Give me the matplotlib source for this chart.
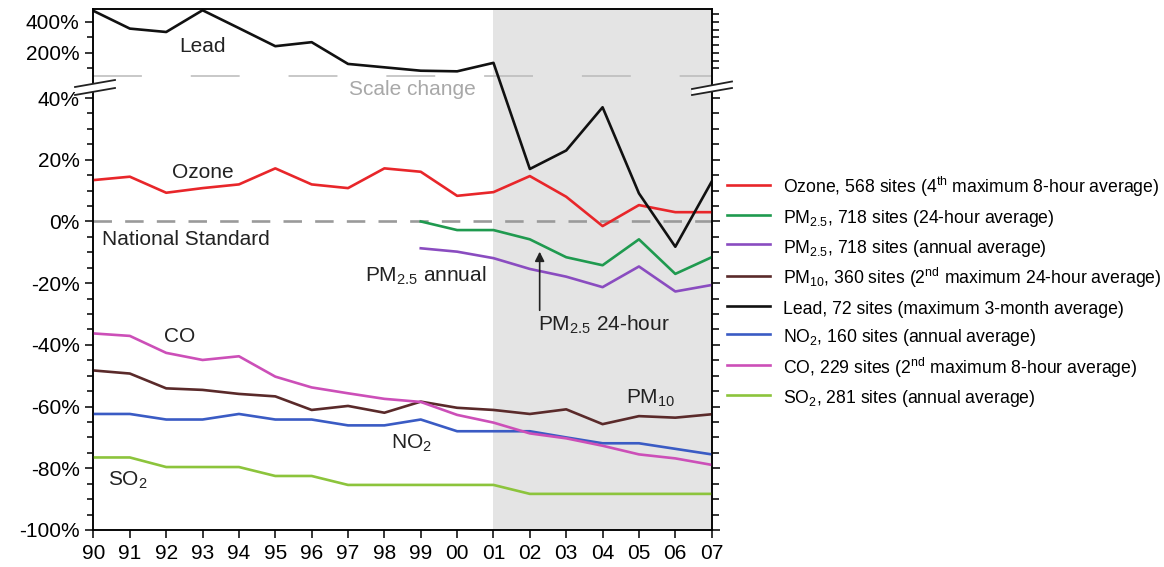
import numpy as np
import matplotlib.pyplot as plt

plt.rcParams['font.family'] = ['Liberation Sans', 'DejaVu Sans']
plt.rcParams['mathtext.fontset'] = 'custom'
plt.rcParams['mathtext.rm'] = 'Liberation Sans'
plt.rcParams['mathtext.it'] = 'Liberation Sans:italic'

# percent change relative to the national standard
years = np.arange(1990, 2008)
pm_years = np.arange(1999, 2008)

ozone = [13.4, 14.5, 9.3, 10.8, 12.0, 17.2, 12.0, 10.8, 17.2, 16.1, 8.3, 9.5,
         14.7, 8.0, -1.5, 5.3, 3.0, 3.0]
lead = [472, 357, 335, 476, 360, 243, 269, 128, 106, 84, 80, 135,
        17.0, 23.0, 37.0, 9.1, -8.2, 12.9]
pm25_24h = [0, -2.8, -2.8, -5.8, -11.6, -14.2, -5.8, -17.0, -11.6]
pm25_ann = [-8.7, -9.8, -11.9, -15.4, -17.9, -21.3, -14.6, -22.7, -20.6]
pm10 = [-48.3, -49.3, -54.1, -54.6, -55.9, -56.7, -61.1, -59.8, -62.0, -58.4, -60.4, -61.1,
        -62.4, -60.9, -65.7, -63.1, -63.6, -62.5]
no2 = [-62.4, -62.4, -64.2, -64.2, -62.4, -64.2, -64.2, -66.1, -66.1, -64.2, -68.0, -68.0,
       -68.0, -70.0, -71.9, -71.9, -73.7, -75.5]
co = [-36.3, -37.1, -42.6, -44.9, -43.7, -50.3, -53.8, -55.7, -57.5, -58.5, -62.7, -65.2,
      -68.7, -70.3, -72.7, -75.5, -76.8, -78.9]
so2 = [-76.5, -76.5, -79.6, -79.6, -79.6, -82.5, -82.5, -85.4, -85.4, -85.4, -85.4, -85.4,
       -88.3, -88.3, -88.3, -88.3, -88.3, -88.3]

labels = [
    "Ozone, 568 sites (4$^{\\mathregular{th}}$ maximum 8-hour average)",
    "PM$_{\\mathregular{2.5}}$, 718 sites (24-hour average)",
    "PM$_{\\mathregular{2.5}}$, 718 sites (annual average)",
    "PM$_{\\mathregular{10}}$, 360 sites (2$^{\\mathregular{nd}}$ maximum 24-hour average)",
    "Lead, 72 sites (maximum 3-month average)",
    "NO$_{\\mathregular{2}}$, 160 sites (annual average)",
    "CO, 229 sites (2$^{\\mathregular{nd}}$ maximum 8-hour average)",
    "SO$_{\\mathregular{2}}$, 281 sites (annual average)",
]

# broken y scale: linear up to BRK, compressed 20x above
BRK, K = 47.0, 20.0


def fwd(v):
    v = np.asarray(v, dtype=float)
    return np.where(v <= BRK, v, BRK + (v - BRK) / K)


def inv(u):
    u = np.asarray(u, dtype=float)
    return np.where(u <= BRK, u, BRK + (u - BRK) * K)


fig = plt.figure(figsize=(11.64, 5.67), dpi=100)
ax = fig.add_axes([0.0803, 0.0653, 0.5311, 0.918])
ax.set_yscale('function', functions=(fwd, inv))
ax.set_xlim(1990, 2007)
ax.set_ylim(-100, 481)

ax.axvspan(2001, 2007, color='#e4e4e4', zorder=0, lw=0)
ax.axhline(0, color='#9a9a9a', lw=1.9, dashes=(7, 5), zorder=1)
ax.axhline(BRK, color='#b9b9b9', lw=1.1, dashes=(32, 32), zorder=1)

lw = 1.9
ax.plot(years, ozone, color='#e8262a', lw=lw, label=labels[0], zorder=3)
ax.plot(pm_years, pm25_24h, color='#1f9a4f', lw=lw, label=labels[1], zorder=3)
ax.plot(pm_years, pm25_ann, color='#8a4cc0', lw=lw, label=labels[2], zorder=3)
ax.plot(years, pm10, color='#5a2a2a', lw=lw, label=labels[3], zorder=3)
ax.plot(years, lead, color='#111111', lw=lw, label=labels[4], zorder=4)
ax.plot(years, no2, color='#3a5bc4', lw=lw, label=labels[5], zorder=3)
ax.plot(years, co, color='#cc4fb8', lw=lw, label=labels[6], zorder=3)
ax.plot(years, so2, color='#8cc43c', lw=lw, label=labels[7], zorder=3)

# ticks
ax.set_xticks(years)
ax.set_xticklabels([f"{y % 100:02d}" for y in years])
ax.tick_params(axis='x', length=6, width=1.1, labelsize=15, pad=4)

left_major = [-100, -80, -60, -40, -20, 0, 20, 40, 200, 400]
ax.set_yticks(left_major)
ax.set_yticklabels([f"{v}%" for v in left_major])
ax.set_yticks(list(range(-95, 40, 5)) + [100, 300], minor=True)
ax.tick_params(axis='y', which='major', length=6, width=1.1, labelsize=15, pad=4)
ax.tick_params(axis='y', which='minor', length=4, width=1.1)

ax2 = ax.twinx()
ax2.set_yscale('function', functions=(fwd, inv))
ax2.set_ylim(-100, 481)
ax2.set_yticks(list(range(-100, 41, 20)))
ax2.set_yticks(list(range(-95, 40, 5)) + list(range(100, 451, 50)), minor=True)
ax2.set_yticklabels([])
ax2.tick_params(axis='y', which='major', length=6, width=1.1)
ax2.tick_params(axis='y', which='minor', length=5, width=1.1)

for a in (ax, ax2):
    for s in a.spines.values():
        s.set_linewidth(1.1)


# scale break marks on the spines
def break_mark(x0, x1, ya0, ya1, yb0, yb1):
    fx = [x0 / 1164, x1 / 1164]
    poly_x = [x0, x1, x1, x0]
    poly_y = [ya0, ya1, yb1, yb0]
    fig.patches.append(plt.Polygon([(px / 1164, 1 - py / 567) for px, py in zip(poly_x, poly_y)],
                                   closed=True, facecolor='white', edgecolor='none',
                                   transform=fig.transFigure, zorder=5))
    fig.lines.append(plt.Line2D(fx, [1 - ya0 / 567, 1 - ya1 / 567], color='#222222', lw=1.3,
                                transform=fig.transFigure, zorder=6))
    fig.lines.append(plt.Line2D(fx, [1 - yb0 / 567, 1 - yb1 / 567], color='#222222', lw=1.3,
                                transform=fig.transFigure, zorder=6))


break_mark(75, 115, 87, 80, 95, 88)
break_mark(692, 732, 89, 81.5, 95, 88)

# annotations
tc = '#222222'
fs = 15
ax.text(1993.0, 239, "Lead", fontsize=fs, color=tc, ha='center', va='center')
ax.text(1993.0, 16, "Ozone", fontsize=fs, color=tc, ha='center', va='center')
ax.text(1990.23, -5.9, "National Standard", fontsize=fs, color=tc, ha='left', va='center')
ax.text(1998.77, 42.8, "Scale change", fontsize=fs, color='#a8a8a8', ha='center', va='center')
ax.text(1992.38, -37.3, "CO", fontsize=fs, color=tc, ha='center', va='center')
ax.text(1997.48, -17.6, "PM$_{\\mathregular{2.5}}$ annual", fontsize=fs, color=tc,
        ha='left', va='center')
ax.text(2002.22, -33.5, "PM$_{\\mathregular{2.5}}$ 24-hour", fontsize=fs, color=tc,
        ha='left', va='center')
ax.text(2004.64, -57.5, "PM$_{\\mathregular{10}}$", fontsize=fs, color=tc, ha='left', va='center')
ax.text(1998.17, -71.8, "NO$_{\\mathregular{2}}$", fontsize=fs, color=tc, ha='left', va='center')
ax.text(1990.4, -84.0, "SO$_{\\mathregular{2}}$", fontsize=fs, color=tc, ha='left', va='center')
ax.annotate('', xy=(2002.27, -9.8), xytext=(2002.27, -28.8),
            arrowprops=dict(arrowstyle='-|>', color=tc, lw=1.2, mutation_scale=14,
                            shrinkA=0, shrinkB=0))

# tall handles make every legend row the same height (30 px)
ax.legend(loc='upper left', bbox_to_anchor=(726.7 / 1164, 1 - 175 / 567),
          bbox_transform=fig.transFigure, frameon=False, fontsize=12.7,
          handlelength=2.45, handletextpad=0.74, handleheight=1.45, labelspacing=0.42,
          borderpad=0, borderaxespad=0)

fig.savefig('out.png', dpi=100)
